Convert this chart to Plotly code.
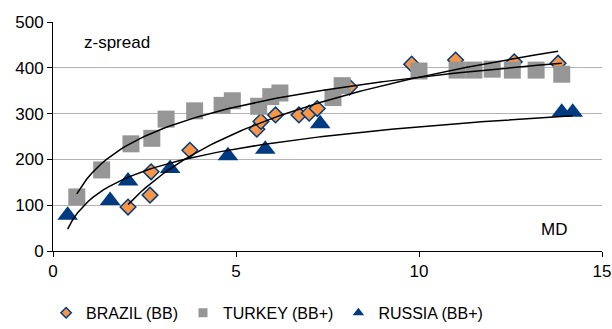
import numpy as np
import plotly.graph_objects as go

# Brazil (BB)
brazil_md = [2.05, 2.65, 2.68, 3.74, 5.57, 5.68, 6.08, 6.72, 7.0, 7.22, 8.1, 9.8, 11.0, 12.6, 13.8]
brazil_zs = [96, 122, 173, 220, 266, 283, 297, 297, 301, 311, 358, 408, 417, 413, 410]
# Turkey (BB+)
turkey_md = [0.65, 1.33, 2.13, 2.7, 3.09, 3.87, 4.62, 4.9, 5.62, 5.95, 6.2, 7.65, 7.9, 10.0, 11.04, 11.5, 12.0, 12.55, 13.2, 13.9]
turkey_zs = [118, 177, 234, 246, 288, 306, 318, 328, 316, 337, 345, 335, 361, 393, 395, 395, 397, 395, 395, 386]
# Russia (BB+)
russia_md = [0.4, 1.56, 2.05, 3.2, 4.78, 5.8, 7.3, 13.9, 14.2]
russia_zs = [78, 110, 153, 180, 208, 222, 278, 303, 303]

series_names = ["BRAZIL (BB)", "TURKEY (BB+)", "RUSSIA (BB+)"]
x_ticks = [0, 5, 10, 15]
y_ticks = [0, 100, 200, 300, 400, 500]

NAVY = "#003A80"
ORANGE = "#F79646"
GRAY = "#969696"

fig = go.Figure()


def log_trend(xs, ys):
    xs = np.asarray(xs, float)
    ys = np.asarray(ys, float)
    a, b = np.polyfit(np.log(xs), ys, 1)
    xx = np.linspace(xs.min(), xs.max(), 100)
    return xx, a * np.log(xx) + b


markers = [
    dict(symbol="diamond", color=ORANGE, line=dict(color=NAVY, width=1.5)),
    dict(symbol="square", color=GRAY, line=dict(width=0)),
    dict(symbol="triangle-up", color=NAVY, line=dict(width=0)),
]
sizes = [12, 17, 18]
legend_sizes = [8, 9, 10]
data = [(brazil_md, brazil_zs), (turkey_md, turkey_zs), (russia_md, russia_zs)]

for (xs, ys), m, s, name in zip(data, markers, sizes, series_names):
    fig.add_trace(go.Scatter(x=xs, y=ys, mode="markers", name=name, showlegend=False,
                             legendgroup=name, marker=dict(size=s, **m)))

for (xs, ys) in data:
    tx, ty = log_trend(xs, ys)
    fig.add_trace(go.Scatter(x=tx, y=ty, mode="lines", showlegend=False, hoverinfo="skip",
                             line=dict(color="black", width=1.5)))

# legend entries with small symbols (as in the original)
for m, s, name in zip(markers, legend_sizes, series_names):
    fig.add_trace(go.Scatter(x=[None], y=[None], mode="markers", name=name,
                             legendgroup=name, marker=dict(size=s, **m)))

fig.add_annotation(x=0.8, y=455, text="z-spread", showarrow=False, xanchor="left",
                   font=dict(size=17, color="black"))
fig.add_annotation(x=13.7, y=47, text="MD", showarrow=False, xanchor="center",
                   font=dict(size=17, color="black"))

fig.update_layout(
    width=612, height=329,
    margin=dict(l=53, r=10, t=22, b=78, autoexpand=False),
    paper_bgcolor="white", plot_bgcolor="white",
    font=dict(family="Liberation Sans, Arial, sans-serif", size=17, color="black"),
    showlegend=True,
    legend=dict(orientation="h", x=0.39, xanchor="center", y=-0.27, yanchor="middle",
                font=dict(size=16), itemwidth=30, tracegroupgap=0,
                bgcolor="rgba(0,0,0,0)"),
)
fig.update_xaxes(range=[0, 15], tickvals=x_ticks, showgrid=False, zeroline=False,
                 showline=True, linecolor="black", linewidth=1, ticks="outside",
                 ticklen=5, tickcolor="black", automargin=False)
fig.update_yaxes(range=[0, 500], tickvals=y_ticks, showgrid=True, gridcolor="#B4B4B4",
                 gridwidth=1, zeroline=False, showline=True, linecolor="black", linewidth=1,
                 ticks="outside", ticklen=5, tickcolor="black", automargin=False)

fig.write_html("out.html", config={"displayModeBar": False},
               post_script="document.body.style.margin='0px';document.body.style.overflow='hidden';")
